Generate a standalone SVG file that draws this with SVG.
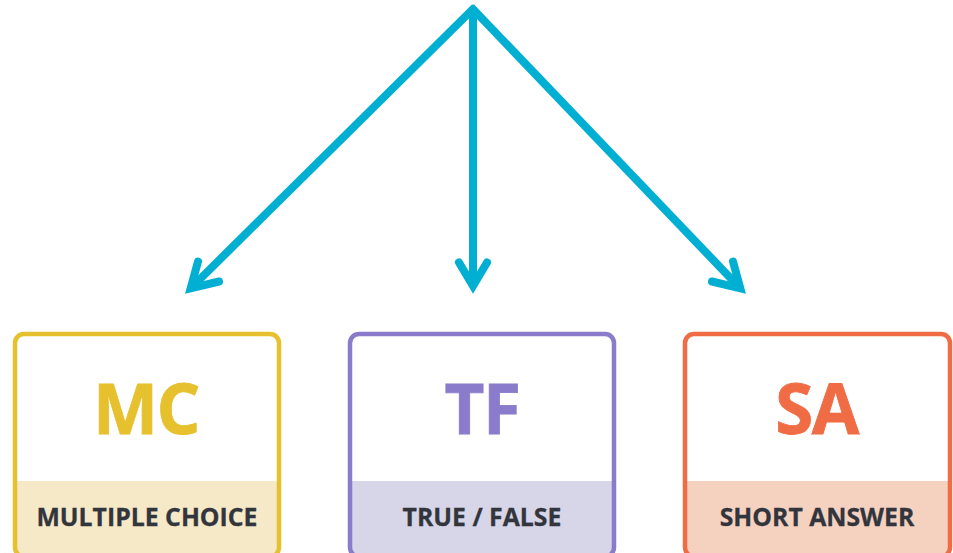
<svg xmlns="http://www.w3.org/2000/svg" width="953" height="553" viewBox="0 0 953 553">
<style>
.bg{fill:#fff}
.box{fill:none;stroke-width:4.500}
.ab{font-family:"Open Sans","Noto Sans",sans-serif;font-weight:700;font-size:69px;text-anchor:middle;letter-spacing:-1.500px;stroke-width:.8px}
.lb{font-family:"Open Sans","Noto Sans",sans-serif;font-weight:700;font-size:24.800px;text-anchor:middle;fill:#33353d;stroke:#33353d;stroke-width:.3px}
.ln{fill:none;stroke:#00afd2;stroke-width:8}
.hd{fill:none;stroke:#00afd2;stroke-width:8;stroke-linecap:round;stroke-linejoin:miter;stroke-miterlimit:6}
</style>
<rect class="bg" width="953" height="553"/>
<g id="connectors">
<path class="ln" d="M475 7L191 288"/>
<path class="ln" d="M473 10V284"/>
<path class="ln" d="M471 7L740 288"/>
<path class="hd" d="M198 261.500L190.700 288.300L219 281.500"/>
<path class="hd" d="M459 262.500L473 286L487 262.500"/>
<path class="hd" d="M733 261.500L740.300 288.300L712 281.500"/>
</g>
<g id="node-mc">
<path d="M16 481H277V547a9 9 0 0 1-9 9H25a9 9 0 0 1-9-9Z" fill="#f5e9c7"/>
<rect class="box" x="15" y="334" width="264" height="222.500" rx="9" stroke="#e6c02d"/>
<text class="ab" x="146" y="434" fill="#e6c02d" stroke="#e6c02d">MC</text>
<text class="lb" x="147" y="526">MULTIPLE CHOICE</text>
</g>
<g id="node-tf">
<path d="M351 481H613V547a9 9 0 0 1-9 9H360a9 9 0 0 1-9-9Z" fill="#d7d5e8"/>
<rect class="box" x="350" y="334" width="264" height="222.500" rx="9" stroke="#8a7ccb"/>
<text class="ab" x="482" y="434" fill="#8a7ccb" stroke="#8a7ccb">TF</text>
<text class="lb" x="482" y="526">TRUE / FALSE</text>
</g>
<g id="node-sa">
<path d="M686 481H949V547a9 9 0 0 1-9 9H695a9 9 0 0 1-9-9Z" fill="#f5d2bf"/>
<rect class="box" x="685" y="334" width="265" height="222.500" rx="9" stroke="#f06c45"/>
<text class="ab" x="816.500" y="434" fill="#f06c45" stroke="#f06c45">SA</text>
<text class="lb" x="817" y="526">SHORT ANSWER</text>
</g>
</svg>
